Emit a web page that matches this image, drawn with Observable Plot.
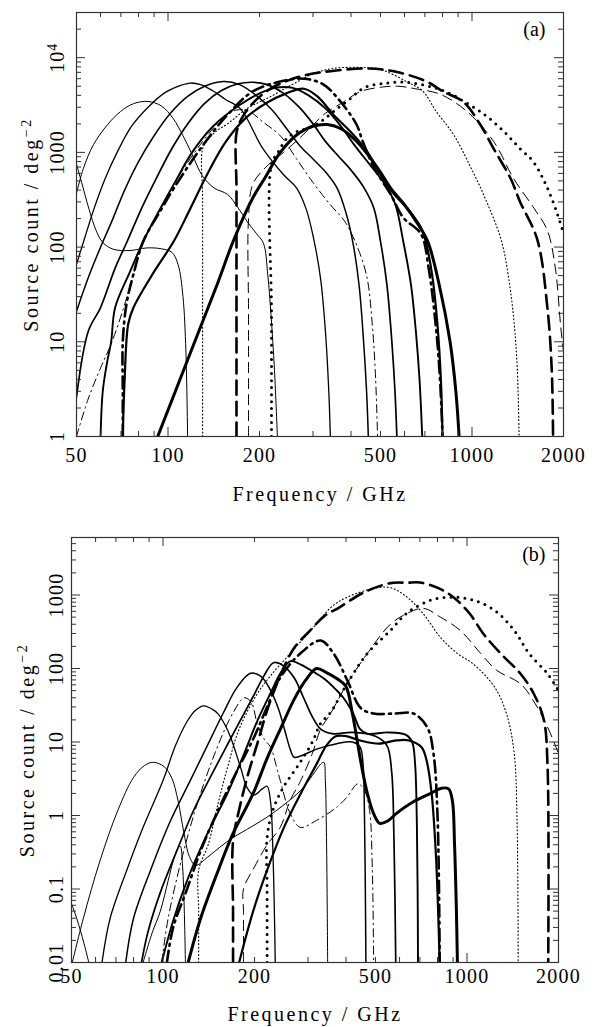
<!DOCTYPE html>
<html>
<head>
<meta charset="utf-8">
<script src="https://cdn.jsdelivr.net/npm/d3@7"></script>
<script src="https://cdn.jsdelivr.net/npm/@observablehq/plot@0.6"></script>
<style>
  html, body { margin: 0; padding: 0; background: #fff; }
  svg { display: block; }
</style>
</head>
<body>
<div id="chart"></div>
<script>
// ---------- tick values / labels ----------
const xLabels = [50, 100, 200, 500, 1000, 2000];
const xMajor = [100, 1000];
const xMinor = [60, 70, 80, 90, 200, 300, 400, 500, 600, 700, 800, 900];

const yLabelsA = [1, 10, 100, 1000, 10000];
const yMajorA = [10, 100, 1000, 10000];
const yMinorA = [2,3,4,5,6,7,8,9, 20,30,40,50,60,70,80,90, 200,300,400,500,600,700,800,900,
                 2000,3000,4000,5000,6000,7000,8000,9000, 20000];

const yLabelsB = [0.01, 0.1, 1, 10, 100, 1000];
const yMajorB = [0.1, 1, 10, 100, 1000];
const yMinorB = [0.02,0.03,0.04,0.05,0.06,0.07,0.08,0.09, 0.2,0.3,0.4,0.5,0.6,0.7,0.8,0.9,
                 2,3,4,5,6,7,8,9, 20,30,40,50,60,70,80,90, 200,300,400,500,600,700,800,900,
                 2000,3000,4000,5000];

// ---------- panel (a) curves: [frequency GHz, count deg^-2] ----------
const a_s1 = [[50,750],[52,480],[55,250],[58,150],[61,112],[66,95],[75,92],[85,98],[95,96],[103,88],[108,65],[112,30],[114.5,8],[116,1]];
const a_s2 = [[50,370],[52.7,680],[56.9,1210],[63.3,1970],[69.8,2700],[77,3270],[86,3450],[95,3100],[104,2280],[112,1500],[120,955],[130,560],[142,420],[157,360],[170,260],[182,187],[195,140],[206,110],[213,50],[218,20],[224,5],[229,1]];
const a_s3 = [[50,66],[53,120],[57,250],[62,520],[68,1000],[76,1900],[86,3000],[98,4300],[110,5100],[118.5,5400],[128,5200],[140,4500],[155,3600],[173,2900],[205,1100],[240,580],[265,420],[285,250],[301,125],[318,45],[330,12],[338,3],[342,1]];
const a_s4 = [[50,21],[55,50],[60,100],[65,180],[72,400],[80,800],[90,1500],[102,2600],[116,3900],[132,5000],[152,5600],[172,5200],[195,4000],[220,2800],[245,1800],[270,1200],[300,850],[330,620],[360,420],[385,230],[405,115],[425,40],[440,10],[450,3],[456,1]];
const a_s5 = [[50,2.6],[54.7,13],[60,23],[67,60],[73.5,116],[82,260],[92,550],[103,1100],[116,2000],[132,3300],[150,4500],[170,5300],[190,5500],[212,5200],[240,4200],[270,3000],[300,2000],[330,1300],[365,900],[400,650],[440,430],[475,260],[500,115],[525,40],[545,10],[558,3],[566,1]];
const a_s6 = [[60,1],[61,3],[63,6],[65,10],[67,23],[75,55],[83,116],[94,250],[106,500],[120,1000],[141,1900],[173,3200],[200,4200],[225,4800],[257,4800],[290,4000],[330,2900],[370,1900],[410,1200],[460,750],[520,450],[560,280],[594,115],[630,40],[655,12],[672,4],[686,1]];
const a_s7 = [[71,1],[72,4],[74,15.5],[77,23],[90,55],[104.6,116],[118,250],[135,600],[155,1300],[180,2300],[210,3300],[245,4200],[280,4700],[310,3900],[350,2500],[398,1660],[451,1030],[500,585],[553,365],[612,257],[680,160],[704,115],[740,50],[770,15],[790,4],[800,1]];
const a_s8 = [[92.5,1],[120,8.5],[145,40],[164,116],[190,330],[210,560],[234,1000],[270,1600],[301,1900],[334,1970],[368,1800],[417,1310],[490,680],[540,420],[600,280],[660,180],[715,115],[780,40],[847,10],[885,3],[907,1]];
const a_dotThin = [[130,1],[130,30],[130,300],[130,1100],[135,1350],[145,1700],[157,2000],[182,2900],[218,3900],[259,5300],[301,6800],[350,7700],[420,7900],[500,7500],[609,5600],[690,4400],[763,2700],[870,1540],[994,680],[1118,300],[1250,116],[1330,40],[1378,15],[1410,5],[1429,1]];
const a_dashThick = [[168,1],[168,20],[168,400],[168,1600],[175,2300],[190,3300],[215,4600],[250,5800],[287,6600],[342,7200],[451,7700],[562,7100],[709,5600],[803,4400],[938,3400],[1064,1970],[1177,1100],[1340,530],[1440,300],[1640,120],[1770,23],[1830,5],[1848,1]];
const a_dashThin = [[184,1],[184,20],[184,200],[190,460],[210,700],[240,1000],[270,1400],[301,1970],[325,2500],[380,3450],[430,4400],[508,4900],[570,5000],[650,4700],[788,4100],[963,2700],[1177,1310],[1370,530],[1600,257],[1770,150],[1880,60],[1960,14],[2000,8]];
const a_dotThick = [[219,1],[219,20],[219,750],[230,1000],[246,1400],[265,1650],[287,1800],[317,2100],[350,2700],[398,3700],[441,4800],[524,5400],[609,5500],[700,5100],[788,4600],[870,4000],[963,3300],[1064,2700],[1177,2100],[1304,1540],[1437,1100],[1590,800],[1770,420],[1913,220],[2000,140]];
const a_ddThin = [[50,1],[54.4,2.4],[60,5.3],[65,9.5],[71.5,23],[77,52],[83,116],[95,260],[110,600],[130,1300],[150,2200],[168,2800],[185,2700],[205,2100],[234,1500],[265,850],[300,480],[342,280],[380,190],[412,116],[450,50],[470,15],[482,4],[489,1]];
const a_ddThick = [[71,1],[71,3],[71,10],[73,25],[77,52],[83,116],[95,250],[104.6,420],[128,1100],[157,2500],[190,4400],[234,5600],[280,6000],[325,5200],[369,3450],[417,1970],[437,1310],[475,700],[540,360],[594,205],[680,137],[720,60],[760,15],[785,4],[800,1]];

// ---------- panel (b) curves ----------
const b_s1a = [[50,0.063],[52,0.04],[55,0.018],[57,0.01]];
const b_s1b = [[86,0.01],[92,0.025],[98,0.05],[104,0.13],[108,0.24],[112,0.36],[114,0.38],[116,0.2],[117.5,0.05],[118.5,0.01]];
const b_s2 = [[50,0.009],[54.7,0.04],[62,0.24],[71,1.17],[80,3.3],[87,4.8],[93,5.3],[101,4.6],[107,3.2],[112,1.6],[117,0.6],[122,0.28],[128,0.21],[140,0.27],[155,0.38],[170,0.5],[195,0.7],[220,0.95],[250,1.4],[284,2.2],[310,3.5],[330,5.0],[338,5.3],[342,3],[345,0.5],[347,0.05],[348,0.01]];
const b_s3 = [[63,0.01],[67,0.04],[76,0.18],[86,0.69],[100,3.0],[110,9],[120,19],[128,27],[136,31],[145,28],[152,24],[160,17],[167,11.5],[180,4.5],[189,2.4],[199,1.9],[212,2.3],[220,2.5],[226,1.5],[230,0.3],[233,0.03],[234,0.01]];
const b_s4 = [[75.4,0.01],[80,0.04],[91,0.18],[106,0.86],[123,3.0],[140,9],[158,25],[175,55],[194,86],[210,78],[225,52],[240,28],[252,14],[262,8],[270,6.2],[285,6.5],[320,8],[373,9.5],[420,10],[445,8.5],[455,5],[460,1],[463,0.1],[465,0.01]];
const b_s5 = [[85,0.01],[89,0.025],[98,0.09],[111,0.33],[126,1.17],[143,3.3],[160,8],[180,20],[200,45],[215,80],[231,120],[248,110],[270,75],[290,40],[310,22],[330,15],[360,13],[420,13.5],[500,12],[545,9],[565,4],[575,0.5],[583,0.01]];
const b_s6 = [[99,0.01],[108,0.037],[120,0.13],[140,0.57],[163,2.0],[185,7],[205,20],[225,45],[245,90],[263,126],[285,112],[310,92],[340,72],[370,52],[392,40],[423,24],[445,15],[470,13],[550,13.5],[630,12.5],[660,10],[675,5],[684,0.8],[688,0.1],[690,0.01]];
const b_s7 = [[121,0.01],[133,0.04],[152,0.18],[170,0.57],[198,2.0],[220,6],[245,16],[270,38],[295,70],[320,100],[345,88],[375,72],[399,58],[420,24],[440,8],[451,4.5],[470,2],[493,1.06],[517,0.78],[550,0.85],[585,1.06],[660,1.5],[760,2.0],[823,2.35],[870,2.3],[895,1.6],[910,0.4],[922,0.06],[930,0.01]];
const b_s8 = [[178,0.01],[198,0.05],[220,0.18],[250,0.69],[284,2.0],[320,5],[345,9],[370,12],[400,12],[445,10.5],[514,9.5],[585,10.5],[644,10.5],[709,8.5],[737,5.5],[765,2],[790,0.3],[805,0.04],[813,0.01]];
const b_dotThin = [[131,0.01],[131,0.05],[131,0.18],[141,0.41],[152,1.5],[163,4.5],[178,15],[204,45],[226,80],[262,160],[312,360],[360,700],[404,935],[493,1230],[560,1260],[635,935],[717,560],[818,265],[930,160],[1049,115],[1232,56],[1350,24],[1430,7],[1460,1],[1474,0.01]];
const b_dashThick = [[170,0.01],[170,0.05],[170,0.45],[178,1.2],[190,3.5],[205,10],[222,30],[243,80],[270,190],[305,330],[340,520],[381,680],[455,1070],[560,1450],[635,1470],[700,1480],[798,1260],[902,935],[1020,560],[1130,300],[1290,160],[1500,85],[1660,45],[1790,20],[1840,5],[1850,0.01]];
const b_dashThin = [[184,0.01],[184,0.05],[184,0.1],[200,0.2],[220,0.4],[243,0.69],[262,1.6],[284,3.0],[310,7],[330,15],[355,24],[404,63],[470,160],[560,400],[635,560],[717,660],[818,500],[950,330],[1110,160],[1250,95],[1500,62],[1650,37],[1840,16],[2000,7]];
const b_dotThick = [[220,0.01],[220,0.1],[220,0.5],[230,1.2],[250,2.5],[280,5],[310,10],[330,18],[355,25],[404,63],[470,160],[560,330],[635,570],[760,850],[902,935],[1050,850],[1232,620],[1430,330],[1600,160],[1840,85],[2000,50]];
const b_ddThin = [[99,0.01],[104,0.04],[115,0.25],[130,1.5],[150,8],[170,25],[185,40],[195,35],[204,18],[215,11],[226,8.5],[235,5],[243,3.0],[262,1.07],[283,0.69],[320,0.86],[373,1.3],[404,1.8],[437,2.7],[460,2.2],[478,1.17],[488,0.2],[493,0.01]];
const b_ddThick = [[103,0.01],[108,0.03],[120,0.1],[133,0.33],[152,1.2],[175,4],[200,12],[220,30],[243,75],[283,160],[330,240],[364,160],[404,69],[447,29],[493,24.4],[580,24.4],[667,24.4],[741,15.7],[776,6.9],[800,1],[813,0.01]];

// ---------- line styles ----------
const styles = {
  w09: {strokeWidth: 1},
  w13: {strokeWidth: 1.3},
  w15: {strokeWidth: 1.5},
  w17: {strokeWidth: 1.7},
  w19: {strokeWidth: 1.9},
  w22: {strokeWidth: 2.2},
  w30: {strokeWidth: 3},
  dotThin: {strokeWidth: 1.1, strokeDasharray: "1,2.6"},
  dotThick: {strokeWidth: 3, strokeDasharray: "0,7", strokeLinecap: "round"},
  dashThick: {strokeWidth: 2.6, strokeDasharray: "14,7"},
  dashThin: {strokeWidth: 1, strokeDasharray: "10,6"},
  ddThin: {strokeWidth: 1, strokeDasharray: "8,4,1.5,4"},
  ddThick: {strokeWidth: 2.6, strokeDasharray: "12,5,2,5"}
};

const seriesA = [
  [a_s1, "w09"], [a_s2, "w09"], [a_s3, "w13"], [a_s4, "w15"], [a_s5, "w17"],
  [a_s6, "w19"], [a_s7, "w22"], [a_s8, "w30"],
  [a_dotThin, "dotThin"], [a_dashThick, "dashThick"], [a_dashThin, "dashThin"],
  [a_dotThick, "dotThick"], [a_ddThin, "ddThin"], [a_ddThick, "ddThick"]
];
const seriesB = [
  [b_s1a, "w09"], [b_s1b, "w09"], [b_s2, "w09"], [b_s3, "w13"], [b_s4, "w15"], [b_s5, "w17"],
  [b_s6, "w19"], [b_s7, "w30"], [b_s8, "w22"],
  [b_dotThin, "dotThin"], [b_dashThick, "dashThick"], [b_dashThin, "dashThin"],
  [b_dotThick, "dotThick"], [b_ddThin, "ddThin"], [b_ddThick, "ddThick"]
];

const FONT = "'Liberation Serif', 'Times New Roman', serif";
const W = 599;

function panel(o) {
  const ph = o.height - o.mt - o.mb;
  const pw = W - o.ml - o.mr;
  const maj = 9, mnr = 5;
  const svg = Plot.plot({
    width: W, height: o.height,
    marginTop: o.mt, marginRight: o.mr, marginBottom: o.mb, marginLeft: o.ml,
    x: {type: "log", domain: [50, 2000], axis: null},
    y: {type: "log", domain: o.yDomain, axis: null},
    style: {fontFamily: FONT, fontSize: "20px", color: "black", background: "white"},
    marks: [
      ...o.series.map(([data, st]) => Plot.line(data, {
        x: d => d[0], y: d => d[1], curve: "catmull-rom", clip: true,
        stroke: "black", strokeLinejoin: "round", ...styles[st]
      })),
      Plot.frame({stroke: "#333", strokeWidth: 1.2}),
      // inward ticks on all four sides
      Plot.tickX(xMajor, {x: d => d, insetTop: ph - maj, stroke: "#333"}),
      Plot.tickX(xMajor, {x: d => d, insetBottom: ph - maj, stroke: "#333"}),
      Plot.tickX(xMinor, {x: d => d, insetTop: ph - mnr, stroke: "#333"}),
      Plot.tickX(xMinor, {x: d => d, insetBottom: ph - mnr, stroke: "#333"}),
      Plot.tickY(o.yMajor, {y: d => d, insetRight: pw - maj, stroke: "#333"}),
      Plot.tickY(o.yMajor, {y: d => d, insetLeft: pw - maj, stroke: "#333"}),
      Plot.tickY(o.yMinor, {y: d => d, insetRight: pw - mnr, stroke: "#333"}),
      Plot.tickY(o.yMinor, {y: d => d, insetLeft: pw - mnr, stroke: "#333"}),
      // tick labels
      Plot.text(xLabels, {x: d => d, frameAnchor: "bottom", dy: o.xLabelDy, lineAnchor: "top",
        text: d => String(d), fontSize: 20}),
      Plot.text(o.yLabels, {y: d => d, frameAnchor: "left", dx: o.yLabelDx, rotate: -90,
        textAnchor: "middle", lineAnchor: "bottom", text: o.yFmt, fontSize: 20}),
      // axis titles
      Plot.text(["Frequency / GHz"], {frameAnchor: "bottom", dy: o.xTitleDy, lineAnchor: "bottom",
        text: d => d, fontSize: 20}),
      Plot.text(["Source count / deg^-2"], {frameAnchor: "left", dx: o.yTitleDx, rotate: -90,
        textAnchor: "middle", lineAnchor: "bottom", text: d => d, fontSize: 20}),
      Plot.text([o.tag], {frameAnchor: "top-right", dx: o.tagDx, dy: 9, lineAnchor: "top",
        textAnchor: "end", text: d => d, fontSize: 20})
    ]
  });
  const ns = "http://www.w3.org/2000/svg";
  for (const t of svg.querySelectorAll("text")) {
    const s = t.textContent;
    if (s === "10^4") {
      t.textContent = "10";
      const ts = document.createElementNS(ns, "tspan");
      ts.setAttribute("dy", "-0.5em"); ts.setAttribute("font-size", "14");
      ts.textContent = "4"; t.appendChild(ts);
      t.style.letterSpacing = "1px";
    } else if (s === "Source count / deg^-2") {
      t.textContent = "Source count / deg";
      const ts = document.createElementNS(ns, "tspan");
      ts.setAttribute("dy", "-0.5em"); ts.setAttribute("font-size", "14");
      ts.textContent = "\u22122"; t.appendChild(ts);
      t.style.letterSpacing = "2.5px";
    } else if (s === "Frequency / GHz") {
      t.style.letterSpacing = "2.5px";
    } else if (/^[0-9.]+$/.test(s)) {
      t.style.letterSpacing = "1.2px";
    }
  }
  return svg;
}

const fmtA = d => d === 10000 ? "10^4" : String(d);
const fmtB = d => String(d);

const root = document.getElementById("chart");
root.appendChild(panel({
  height: 515, mt: 12, mb: 79, ml: 76, mr: 36,
  yDomain: [1, 30000], yMajor: yMajorA, yMinor: yMinorA, yLabels: yLabelsA, yFmt: fmtA,
  series: seriesA, xLabelDy: 11, yLabelDx: -13, xTitleDy: 64, yTitleDx: -39, tag: "(a)", tagDx: -18
}));
root.appendChild(panel({
  height: 512, mt: 22, mb: 65, ml: 71, mr: 41,
  yDomain: [0.01, 6060], yMajor: yMajorB, yMinor: yMinorB, yLabels: yLabelsB, yFmt: fmtB,
  series: seriesB, xLabelDy: 6, yLabelDx: -9, xTitleDy: 58, yTitleDx: -38, tag: "(b)", tagDx: -13
}));
</script>
</body>
</html>
